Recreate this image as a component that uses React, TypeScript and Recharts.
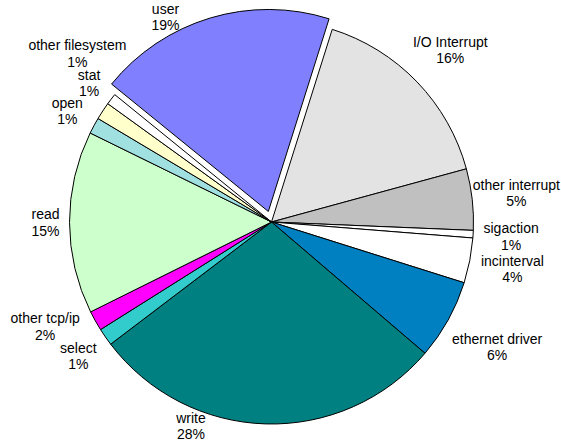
import React, { useMemo } from 'react';
import { PieChart, Pie, Cell } from 'recharts';

// ---------- data ----------
const categories = [
  'I/O Interrupt',
  'other interrupt',
  'sigaction',
  'incinterval',
  'ethernet driver',
  'write',
  'select',
  'other tcp/ip',
  'read',
  'open',
  'stat',
  'other filesystem',
  'user',
];
const shares = [15.9, 4.9, 0.6, 3.6, 6.4, 28.4, 1.4, 1.6, 14.6, 1.3, 1.4, 0.9, 19.0];
const colors = [
  '#E3E3E3',
  '#C0C0C0',
  '#FFFFFF',
  '#FFFFFF',
  '#0080C0',
  '#008080',
  '#33CCCC',
  '#FF00FF',
  '#CCFFCC',
  '#A0E0E0',
  '#FFFFCC',
  '#FFFFFF',
  '#8080FF',
];
const explodedCategory = 'user';

// ---------- layout constants ----------
const W = 561;
const H = 443;
const CX = 271.5;
const CY = 222;
const R = 202;
const START_CW = 17.5; // first slice starts this many degrees clockwise from 12 o'clock
const START = 90 - START_CW;
const END = START - 360;
const EXPLODE = 11;
const FONT = '"Liberation Sans", Arial, Helvetica, sans-serif';
const FS = 14;
const LH = 16.5;
const GAP = 10;
const TOL = 1;
const MX = 1;
const MY = 3;
const HH = 14;

const data = categories.map((name, i) => ({ name, value: shares[i] }));

type Box = { x: number; y: number; hw: number; hh: number };

let measureCtx: CanvasRenderingContext2D | null = null;
function textWidth(s: string): number {
  try {
    if (!measureCtx) measureCtx = document.createElement('canvas').getContext('2d');
    if (measureCtx) {
      measureCtx.font = `${FS}px ${FONT}`;
      return measureCtx.measureText(s).width;
    }
  } catch (e) {
    /* ignore */
  }
  return s.length * FS * 0.55;
}

const clamp = (v: number, a: number, b: number) => Math.max(a, Math.min(b, v));

function distToBox(px: number, py: number, b: Box) {
  const nx = clamp(px, b.x - b.hw, b.x + b.hw);
  const ny = clamp(py, b.y - b.hh, b.y + b.hh);
  return Math.hypot(px - nx, py - ny);
}

function overlaps(a: Box, b: Box) {
  return Math.abs(a.x - b.x) < a.hw + b.hw && Math.abs(a.y - b.y) < a.hh + b.hh;
}

function place(ox: number, oy: number, th: number, hw: number, hh: number): Box {
  const ux = Math.sin(th);
  const uy = -Math.cos(th);
  let lo = 0;
  let hi = R + GAP + hw + hh + 40;
  for (let it = 0; it < 40; it++) {
    const m = (lo + hi) / 2;
    const b = { x: ox + m * ux, y: oy + m * uy, hw, hh };
    if (distToBox(ox, oy, b) >= R + GAP) hi = m;
    else lo = m;
  }
  let b: Box = { x: ox + hi * ux, y: oy + hi * uy, hw, hh };
  const minX = MX + hw;
  const maxX = W - MX - hw;
  const minY = MY + hh;
  const maxY = H - MY - hh;
  const nx = clamp(b.x, minX, maxX);
  const ny = clamp(b.y, minY, maxY);
  if (nx !== b.x || ny !== b.y) {
    const clampedY = ny !== b.y;
    let sx = 0;
    let sy = 0;
    if (clampedY) sx = b.x < ox ? -1 : 1;
    else sy = b.y < oy ? -1 : 1;
    b = { x: nx, y: ny, hw, hh };
    for (let s = 0; s < 600 && distToBox(ox, oy, b) < R - TOL; s++) {
      b = { x: clamp(b.x + sx * 0.5, minX, maxX), y: clamp(b.y + sy * 0.5, minY, maxY), hw, hh };
    }
  }
  return b;
}

function computeLayout() {
  const total = shares.reduce((a, b) => a + b, 0);
  const deg = Math.PI / 180;
  let acc = START_CW;
  const mids = shares.map((v) => {
    const span = (v / total) * 360;
    const m = acc + span / 2;
    acc += span;
    return m;
  });
  const ei = categories.indexOf(explodedCategory);
  const eMid = mids[ei] * deg;
  const exp = { dx: EXPLODE * Math.sin(eMid), dy: -EXPLODE * Math.cos(eMid) };
  const placed: Box[] = [];
  const labels: Record<string, { x: number; y: number; lines: string[] }> = {};
  categories.forEach((name, i) => {
    const lines = [name, Math.round((shares[i] / total) * 100) + '%'];
    const hw = Math.max(...lines.map(textWidth)) / 2;
    const ox = CX + (i === ei ? exp.dx : 0);
    const oy = CY + (i === ei ? exp.dy : 0);
    let box: Box | null = null;
    for (let k = 0; k < 240; k++) {
      const b = place(ox, oy, (mids[i] + k * 0.5) * deg, hw, HH);
      if (!placed.some((p) => overlaps(p, b))) {
        box = b;
        break;
      }
    }
    if (!box) box = place(ox, oy, mids[i] * deg, hw, HH);
    placed.push(box);
    labels[name] = { x: box.x, y: box.y, lines };
  });
  return { labels, exp, ei };
}

export default function App() {
  const { labels, exp, ei } = useMemo(() => computeLayout(), []);

  const renderLabel = (props: any) => {
    const name = props.name ?? props.payload?.name;
    const l = labels[name];
    if (!l) return null;
    return (
      <g>
        <text x={l.x} y={l.y - 3.25} textAnchor="middle" fontFamily={FONT} fontSize={FS} fill="#000">
          {l.lines[0]}
        </text>
        <text x={l.x} y={l.y + LH - 3.25} textAnchor="middle" fontFamily={FONT} fontSize={FS} fill="#000">
          {l.lines[1]}
        </text>
      </g>
    );
  };

  return (
    <div style={{ position: 'absolute', left: 0, top: 0, width: W, height: H, background: '#fff' }}>
      <PieChart width={W} height={H} margin={{ top: 0, right: 0, bottom: 0, left: 0 }}>
        <Pie
          data={data}
          dataKey="value"
          nameKey="name"
          cx={CX}
          cy={CY}
          outerRadius={R}
          innerRadius={0}
          startAngle={START}
          endAngle={END}
          stroke="#000"
          strokeWidth={1}
          labelLine={false}
          label={renderLabel}
          isAnimationActive={false}
        >
          {data.map((d, i) => (
            <Cell
              key={d.name}
              fill={i === ei ? 'transparent' : colors[i]}
              stroke={i === ei ? 'none' : '#000'}
              strokeWidth={1}
            />
          ))}
        </Pie>
        <Pie
          data={data}
          dataKey="value"
          nameKey="name"
          cx={CX + exp.dx}
          cy={CY + exp.dy}
          outerRadius={R}
          innerRadius={0}
          startAngle={START}
          endAngle={END}
          labelLine={false}
          label={false}
          isAnimationActive={false}
        >
          {data.map((d, i) => (
            <Cell
              key={d.name}
              fill={i === ei ? colors[i] : 'none'}
              stroke={i === ei ? '#000' : 'none'}
              strokeWidth={1}
            />
          ))}
        </Pie>
      </PieChart>
    </div>
  );
}
